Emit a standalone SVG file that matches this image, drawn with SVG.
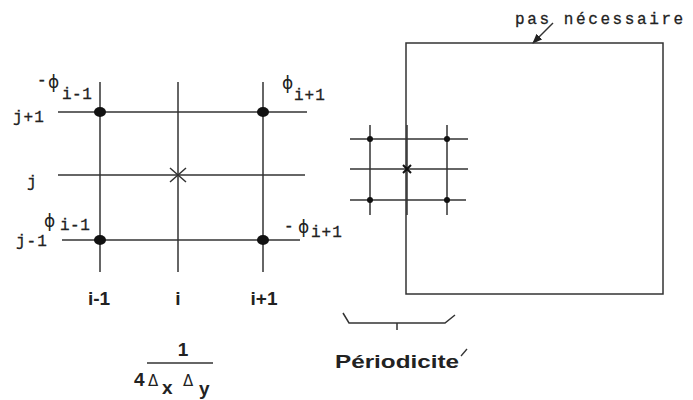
<svg xmlns="http://www.w3.org/2000/svg" width="693" height="400" viewBox="0 0 693 400">
<style>
.ln{stroke:#333;stroke-width:1.5;fill:none}
.mono{font-family:"Liberation Mono","DejaVu Sans Mono",monospace;font-size:16px;fill:#222;stroke:#222;stroke-width:0.3}
.phi{font-family:"DejaVu Sans","DejaVu Sans Mono",sans-serif;font-size:17px;fill:#222}
.sub{font-family:"Liberation Mono","DejaVu Sans Mono",monospace;font-size:16px;fill:#222;stroke:#222;stroke-width:0.3}
.bold{font-family:"Liberation Sans",Arial,sans-serif;font-weight:bold;font-size:19px;fill:#222}
.delta{font-family:"DejaVu Sans",sans-serif;font-size:15px;fill:#222}
.dot{fill:#111}
</style>
<defs>
<marker id="ah" markerWidth="10" markerHeight="8" refX="9" refY="4" orient="auto" markerUnits="userSpaceOnUse">
<path d="M0,0 L10,4 L0,8 z" fill="#222"/>
</marker>
</defs>
<rect width="693" height="400" fill="#fff"/>
<g id="connectors">
<line class="ln" x1="100" y1="82" x2="100" y2="272"/>
<line class="ln" x1="178" y1="82" x2="178" y2="272"/>
<line class="ln" x1="263" y1="82" x2="263" y2="272"/>
<line class="ln" x1="58" y1="112" x2="307" y2="112"/>
<line class="ln" x1="58" y1="175" x2="305" y2="175"/>
<line class="ln" x1="62" y1="240" x2="300" y2="240"/>
<line class="ln" x1="370" y1="125" x2="370" y2="215"/>
<line class="ln" x1="447" y1="125" x2="447" y2="215"/>
<line class="ln" x1="350" y1="139" x2="468" y2="139"/>
<line class="ln" x1="350" y1="169" x2="468" y2="169"/>
<line class="ln" x1="350" y1="200" x2="466" y2="200"/>
<line class="ln" x1="553" y1="23" x2="533" y2="43" marker-end="url(#ah)"/>
</g>
<g id="grid-left">
<ellipse class="dot" cx="100" cy="112" rx="6" ry="5"/>
<ellipse class="dot" cx="263" cy="112" rx="6" ry="5"/>
<ellipse class="dot" cx="100" cy="240" rx="6" ry="5"/>
<ellipse class="dot" cx="263" cy="240" rx="6" ry="5"/>
<path class="ln" d="M170,168 L186,182 M186,168 L170,182" stroke-width="1.3"/>
<text class="mono" x="37" y="85">-</text><text class="phi" x="48" y="88">ϕ</text><text class="sub" x="62" y="99" letter-spacing="0.5">i-1</text>
<text class="phi" x="282" y="89">ϕ</text><text class="sub" x="294" y="100" letter-spacing="1">i+1</text>
<text class="phi" x="44" y="227">ϕ</text><text class="sub" x="60" y="230" letter-spacing="0.5">i-1</text>
<text class="mono" x="284" y="231">-</text><text class="phi" x="298" y="233">ϕ</text><text class="sub" x="311" y="237" letter-spacing="1">i+1</text>
<text class="mono" x="13" y="122" letter-spacing="1">j+1</text>
<text class="mono" x="27" y="187">j</text>
<text class="mono" x="16" y="246" letter-spacing="1">j-1</text>
<text class="bold" x="99" y="305" text-anchor="middle">i-1</text>
<text class="bold" x="178" y="305" text-anchor="middle">i</text>
<text class="bold" x="264" y="305" text-anchor="middle">i+1</text>
</g>
<g id="fraction">
<text class="bold" x="183" y="356" text-anchor="middle">1</text>
<line x1="147" y1="363" x2="213" y2="363" stroke="#333" stroke-width="1.3"/>
<text class="bold" x="134" y="386" font-size="15">4</text>
<text class="delta" x="148" y="386">Δ</text>
<text class="bold" x="162" y="394">x</text>
<text class="delta" x="183" y="386">Δ</text>
<text class="bold" x="199" y="395">y</text>
</g>
<g id="domain">
<rect x="406" y="43" width="257" height="251" class="ln"/>
<text class="mono" x="515" y="24" font-size="16" letter-spacing="2.6">pas nécessaire</text>
</g>
<g id="grid-right">
<line class="ln" x1="407" y1="125" x2="407" y2="215"/>
<circle class="dot" cx="370" cy="139" r="3"/>
<circle class="dot" cx="447" cy="139" r="3"/>
<circle class="dot" cx="370" cy="200" r="3"/>
<circle class="dot" cx="447" cy="200" r="3"/>
<path d="M403,165 L411,173 M411,165 L403,173" stroke="#111" stroke-width="2"/>
</g>
<g id="periodicite">
<path class="ln" d="M343,313 L349,323 L445,323 L455,315 M397,323 L397,330" stroke-width="1.3"/>
<text class="bold" x="335" y="368" font-size="21" textLength="124" lengthAdjust="spacingAndGlyphs">Périodicite</text>
<line x1="461" y1="356" x2="467" y2="349" stroke="#333" stroke-width="1.3"/>
</g>
</svg>
